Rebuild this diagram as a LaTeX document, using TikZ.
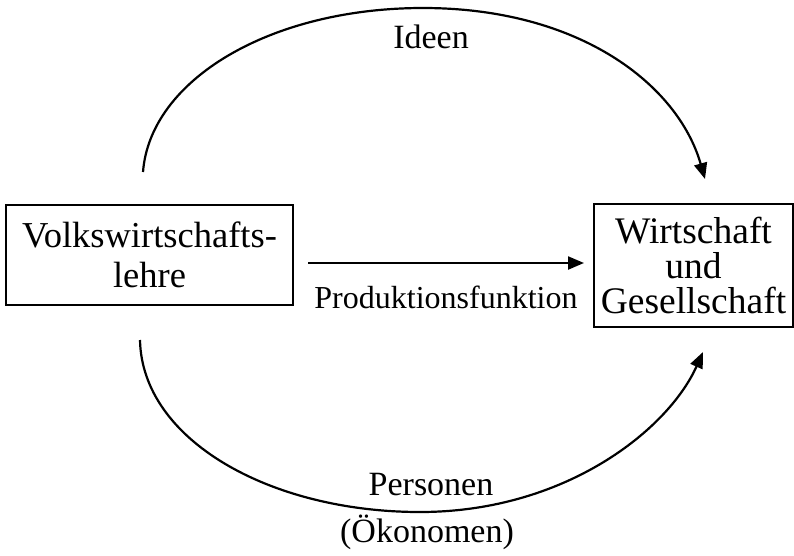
\documentclass[tikz,border=0pt]{standalone}
\usepackage{fontspec}
\setmainfont{Liberation Serif}
\usetikzlibrary{arrows.meta}
\begin{document}
\begin{tikzpicture}[x=1pt,y=-1pt,
  box/.style={draw,line width=1.1pt,align=center,inner sep=0pt},
  conn/.style={line width=2.2pt,-{Triangle[length=16pt,width=13pt]}},
  lbl/.style={anchor=base,inner sep=0pt}]
\useasboundingbox (0,0) rectangle (794,555);
\node[box,minimum width=287pt,minimum height=100pt,
  font=\fontsize{36.5}{40}\selectfont] (L) at (149.5,255)
  {Volkswirtschafts-\\lehre};
\node[box,minimum width=199pt,minimum height=123pt,
  font=\fontsize{37.5}{35}\selectfont] (R) at (693.5,265.5)
  {Wirtschaft\\und\\Gesellschaft};
\coordinate (a1) at (308,263);
\coordinate (a2) at (584,263);
\draw[conn] (a1) -- (a2);
\node[lbl,font=\fontsize{32}{36}\selectfont] (P) at (446,308) {Produktionsfunktion};
\coordinate (t1) at (143,172);
\coordinate (tm) at (423,8);
\coordinate (t2) at (705,179);
\draw[conn] (t1) .. controls (150,80) and (270,8) .. (tm)
  .. controls (580,8) and (678,85) .. (t2);
\node[lbl,font=\fontsize{34}{38}\selectfont] (I) at (431,48) {Ideen};
\coordinate (b1) at (140,340);
\coordinate (bm) at (420,512);
\coordinate (b2) at (703,352);
\draw[conn] (b1) .. controls (142,440) and (270,512) .. (bm)
  .. controls (565,512) and (668,430) .. (b2);
\node[lbl,font=\fontsize{34}{38}\selectfont] (Pe) at (431,495) {Personen};
\node[lbl,font=\fontsize{34}{38}\selectfont] (O) at (427,542) {(Ökonomen)};
\end{tikzpicture}
\end{document}
